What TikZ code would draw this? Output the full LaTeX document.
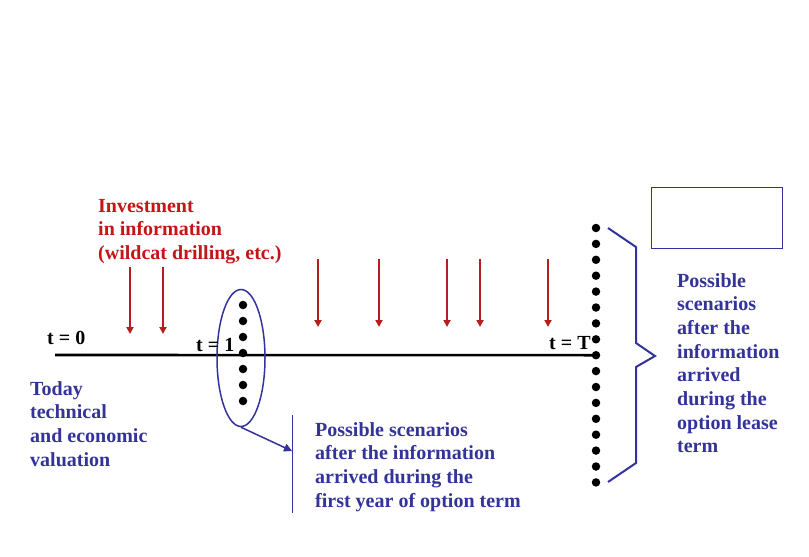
\documentclass[tikz,border=0pt]{standalone}
\usepackage{fontspec}
\setmainfont{Liberation Serif}
\usetikzlibrary{arrows.meta,shapes.geometric}
\definecolor{tred}{RGB}{196,22,22}
\definecolor{ared}{RGB}{180,30,30}
\definecolor{tblue}{RGB}{51,51,153}
\begin{document}
\begin{tikzpicture}[x=1pt,y=-1pt,
  txt/.style={anchor=base west, inner sep=0pt, font=\fontsize{20}{23.7}\selectfont\bfseries},
  redtxt/.style={txt, text=tred},
  bluetxt/.style={txt, text=tblue},
  blktxt/.style={txt, text=black},
  inv/.style={ared, line width=2pt, -{Triangle[width=7pt,length=7pt]}},
  sdot/.style={circle, fill=black, inner sep=0pt, minimum size=8.5pt},
  navy/.style={tblue, line width=1.5pt}]
\useasboundingbox (0,0) rectangle (809,557);
\fill[white] (0,0) rectangle (809,557);

% timeline
\foreach \i in {1,...,17} { \node[sdot] (e\i) at (596,{228+15.9*(\i-1)}) {}; }
\foreach \i in {1,...,7} { \node[sdot] (d\i) at (243,{305+16*(\i-1)}) {}; }
\coordinate (tl0) at (55,355);
\draw[line width=2.6pt] (tl0) -- (e9.center);

% ellipse
\node[draw=tblue, line width=1.5pt, ellipse, minimum width=48pt, minimum height=137pt, inner sep=0pt] (ell) at (241,358) {};

% labels
\node[blktxt] (t0) at (47,344) {t = 0};
\node[blktxt] (t1) at (196,351) {t = 1};
\node[blktxt] (tT) at (549,349) {t = T};

\node[redtxt] (inv) at (98,212) {\begin{tabular}[t]{@{}l@{}}Investment\\ in information\\ (wildcat drilling, etc.)\end{tabular}};
\node[bluetxt] (today) at (30,395) {\begin{tabular}[t]{@{}l@{}}Today\\ technical\\ and economic\\ valuation\end{tabular}};
\node[bluetxt] (first) at (315,436) {\begin{tabular}[t]{@{}l@{}}Possible scenarios\\ after the information\\ arrived during the\\ first year of option term\end{tabular}};
\node[bluetxt] (lease) at (677,287) {\begin{tabular}[t]{@{}l@{}}Possible\\ scenarios\\ after the\\ information\\ arrived\\ during the\\ option lease\\ term\end{tabular}};

% red arrows
\foreach \x/\n in {130/a, 163/b} {
  \coordinate (\n s) at (\x,267); \coordinate (\n e) at (\x,334);
  \draw[inv] (\n s) -- (\n e);
}
\foreach \x/\n in {318/c, 379/d, 447/f, 480/g, 548/h} {
  \coordinate (\n s) at (\x,259); \coordinate (\n e) at (\x,327);
  \draw[inv] (\n s) -- (\n e);
}

% pointer from ellipse
\coordinate (vtop) at (292,415);
\coordinate (vbot) at (292,513);
\coordinate (vhit) at (292,451);
\draw[tblue, line width=1pt] (vtop) -- (vbot);
\draw[navy, -{Triangle[width=8pt,length=8pt]}] (ell.south) -- (vhit);

% brace
\coordinate (b1) at (608,228);
\coordinate (b7) at (608,482);
\draw[tblue, line width=2pt, line join=miter] (b1) -- (636,247) -- (636,343) -- (655,356) -- (636,367) -- (636,463) -- (b7);

% empty box
\node[draw=tblue, line width=1pt, minimum width=131pt, minimum height=61pt, inner sep=0pt] (box) at (716.5,217.5) {};
\end{tikzpicture}
\end{document}
